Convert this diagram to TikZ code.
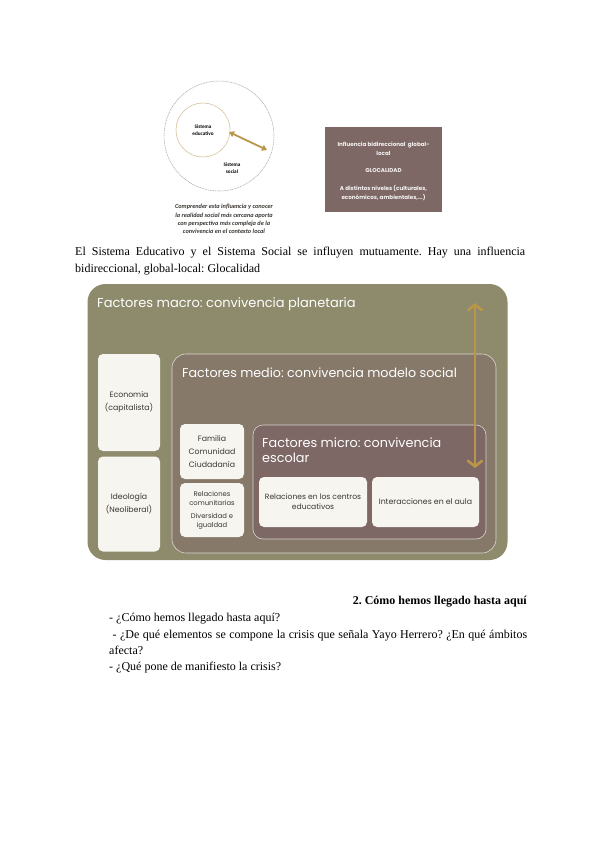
\documentclass[tikz,border=0pt]{standalone}
\usepackage{fontspec}
\setmainfont{Liberation Serif}
\newfontfamily\gothic{Poppins}
\newfontfamily\calib{Carlito}
\usetikzlibrary{positioning,arrows.meta}
\frenchspacing
\hyphenpenalty=10000
\exhyphenpenalty=10000

\definecolor{macrocol}{HTML}{8E8A6C}
\definecolor{mediocol}{HTML}{86796A}
\definecolor{microcol}{HTML}{7D6865}
\definecolor{boxcol}{HTML}{F7F5F0}
\definecolor{goldcol}{HTML}{B9964A}
\definecolor{tancol}{HTML}{D8C49C}
\definecolor{inkcol}{HTML}{3A3632}

\tikzset{
  bigbox/.style={rounded corners=#1, inner sep=0pt},
  softbox/.style={fill=boxcol, rounded corners=5pt, text=inkcol, align=center,
    font=\gothic\fontsize{7.8}{13}\selectfont},
  boxtitle/.style={text=white, anchor=base west, align=left,
    font=\gothic\fontsize{#1}{15}\selectfont},
  goldarrow/.style={draw=goldcol, line width=2.6pt,
    {Straight Barb[length=5.5pt,width=14pt,line cap=round]}-{Straight Barb[length=5.5pt,width=14pt,line cap=round]}},
  body/.style={anchor=base west, font=\fontsize{12}{16}\selectfont}
}

\begin{document}
\begin{tikzpicture}[x=1pt,y=-1pt,every node/.style={inner sep=0pt}]
  \useasboundingbox[fill=white] (0,0) rectangle (599,848);

  % two systems, one inside the other
  \node[circle, draw=gray!75, dash pattern=on 1pt off 0.7pt, line width=0.5pt,
        minimum size=110pt] (social) at (219,136) {};
  \node[circle, draw=tancol, line width=0.6pt, minimum size=54pt,
        font=\calib\bfseries\fontsize{5.2}{6.5}\selectfont, align=center] (educ) at (203,130)
        {Sistema\\educativo};
  \node[font=\calib\bfseries\fontsize{5.2}{7.5}\selectfont, align=center] (socialt) at (232,168)
        {Sistema\\social};
  \coordinate (inA) at (229,132);
  \coordinate (outA) at (267,150);
  \draw[draw=goldcol, line width=1.8pt,
        {Triangle[length=5pt,width=6pt]}-{Triangle[length=5pt,width=6pt]}] (inA) -- (outA);
  \node[font=\calib\bfseries\itshape\fontsize{6.3}{8.3}\selectfont, align=center,
        text=inkcol] (caption) at (224,219)
        {Comprender esta influencia y conocer\\la realidad social más cercana aporta\\con perspectiva más compleja de la\\convivencia en el contexto local};

  % glocalidad box
  \node[fill=microcol, minimum width=117pt, minimum height=85pt] (gloc) at (383.5,169.5) {};
  \node[text=white!92!microcol, align=center, font=\gothic\bfseries\fontsize{5.6}{9}\selectfont]
        (gloct) at (383.5,171)
        {Influencia bidireccional\ \ global-\\local\\[8pt]GLOCALIDAD\\[9pt]A distintos niveles (culturales,\\económicos, ambientales,...)};

  \node[body, text width=450pt, align=justify, font=\fontsize{12}{17}\selectfont] (intro) at (75,255)
        {El Sistema Educativo y el Sistema Social se influyen mutuamente. Hay una influencia bidireccional, global-local: Glocalidad};

  % niveles de convivencia
  \node[bigbox=18pt, fill=macrocol, minimum width=420pt, minimum height=276pt] (macro) at (297.5,422) {};
  \node[boxtitle=13] (macrot) at (97,307) {Factores macro: convivencia planetaria};
  \node[softbox, minimum width=62pt, minimum height=97pt] (eco) at (129,402.5) {Economia\\(capitalista)};
  \node[softbox, minimum width=62pt, minimum height=95pt] (ideo) at (129,504) {Ideología\\(Neoliberal)};

  \node[bigbox=14pt, fill=mediocol, draw=white!70!mediocol, line width=0.6pt,
        minimum width=324pt, minimum height=199pt] (medio) at (334,453.5) {};
  \node[boxtitle=12.7] (mediot) at (182,377) {Factores medio: convivencia modelo social};
  \node[softbox, minimum width=64pt, minimum height=55pt] (fam) at (212,451.5) {Familia\\Comunidad\\Ciudadanía};
  \node[softbox, minimum width=64pt, minimum height=54pt,
        font=\gothic\fontsize{6.8}{9}\selectfont] (rel) at (212,510)
        {Relaciones\\comunitarias\\[4pt]Diversidad e\\igualdad};

  \node[bigbox=10pt, fill=microcol, draw=white!70!microcol, line width=0.6pt,
        minimum width=233pt, minimum height=114pt] (micro) at (369.5,482) {};
  \node[boxtitle=12.8] (microt) at (262,462) {Factores micro: convivencia\\escolar};
  \node[softbox, minimum width=108pt, minimum height=50pt,
        font=\gothic\fontsize{7.6}{10}\selectfont] (centros) at (313,502)
        {Relaciones en los centros\\educativos};
  \node[softbox, minimum width=107pt, minimum height=50pt] (aula) at (425.5,502)
        {Interacciones en el aula};

  \coordinate (top) at (475,303);
  \coordinate (bottom) at (475,468);
  \draw[goldarrow] (bottom) -- (top);

  % section 2
  \node[anchor=base east, font=\bfseries\fontsize{12}{16}\selectfont] (sec) at (527,604)
        {2. Cómo hemos llegado hasta aquí};
  \node[body] (q1) at (109,621) {- ¿Cómo hemos llegado hasta aquí?};
  \node[body, text width=418pt, align=justify] (q2) at (109,638)
        {\ - ¿De qué elementos se compone la crisis que señala Yayo Herrero? ¿En qué ámbitos afecta?};
  \node[body] (q3) at (109,670) {- ¿Qué pone de manifiesto la crisis?};
\end{tikzpicture}
\end{document}
